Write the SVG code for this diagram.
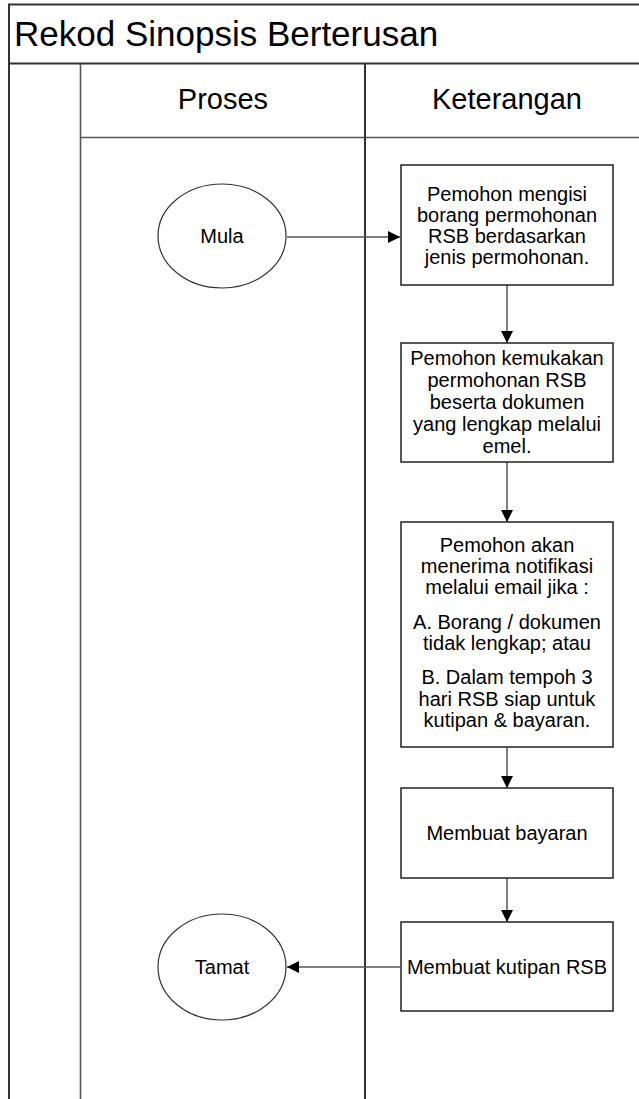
<svg xmlns="http://www.w3.org/2000/svg" width="639" height="1099" viewBox="0 0 639 1099">
<defs>
<style>
.frame{fill:none;stroke:#333;stroke-width:2}
.lane{fill:none;stroke:#555;stroke-width:1.6}
.box{fill:#fff;stroke:#222;stroke-width:1.5}
.ell{fill:#fff;stroke:#333;stroke-width:1.2}
.conn{fill:none;stroke:#555;stroke-width:1.5}
text{font-family:"Liberation Sans",Arial,sans-serif;fill:#000}
.t{font-size:20px;text-anchor:middle}
.h{font-size:29px;text-anchor:middle}
</style>
<marker id="arr" viewBox="0 0 10 10" refX="10" refY="5" markerWidth="12" markerHeight="12" markerUnits="userSpaceOnUse" orient="auto">
<path d="M0,0 L10,5 L0,10 z" fill="#000"/>
</marker>
</defs>
<rect width="639" height="1099" fill="#fff"/>
<g id="frame">
<path class="frame" d="M9,1099 V4.5 H650 M9,63.5 H650"/>
<path class="lane" d="M80.5,63.5 V1099 M80.5,137.5 H650"/>
<path class="frame" d="M365,63.5 V1099"/>
<text x="14" y="46" font-size="35">Rekod Sinopsis Berterusan</text>
<text class="h" x="223" y="109">Proses</text>
<text class="h" x="507" y="109">Keterangan</text>
</g>
<g id="connectors">
<line class="conn" x1="287" y1="237" x2="400" y2="237" marker-end="url(#arr)"/>
<line class="conn" x1="507" y1="285" x2="507" y2="343" marker-end="url(#arr)"/>
<line class="conn" x1="507" y1="462" x2="507" y2="522" marker-end="url(#arr)"/>
<line class="conn" x1="507" y1="747" x2="507" y2="788" marker-end="url(#arr)"/>
<line class="conn" x1="507" y1="878" x2="507" y2="922" marker-end="url(#arr)"/>
<line class="conn" x1="400" y1="967" x2="287" y2="967" marker-end="url(#arr)"/>
</g>
<g id="mula">
<ellipse class="ell" cx="222" cy="236" rx="64" ry="52"/>
<text class="t" x="222" y="243">Mula</text>
</g>
<g id="box1">
<rect class="box" x="401" y="165" width="212" height="120"/>
<text class="t" x="507" y="201">Pemohon mengisi</text>
<text class="t" x="507" y="222">borang permohonan</text>
<text class="t" x="507" y="243">RSB berdasarkan</text>
<text class="t" x="507" y="264">jenis permohonan.</text>
</g>
<g id="box2">
<rect class="box" x="401" y="343" width="212" height="119"/>
<text class="t" x="507" y="365">Pemohon kemukakan</text>
<text class="t" x="507" y="387">permohonan RSB</text>
<text class="t" x="507" y="409">beserta dokumen</text>
<text class="t" x="507" y="431">yang lengkap melalui</text>
<text class="t" x="507" y="453">emel.</text>
</g>
<g id="box3">
<rect class="box" x="401" y="522" width="212" height="225"/>
<text class="t" x="507" y="552">Pemohon akan</text>
<text class="t" x="507" y="573">menerima notifikasi</text>
<text class="t" x="507" y="594">melalui email jika :</text>
<text class="t" x="507" y="629">A. Borang / dokumen</text>
<text class="t" x="507" y="650">tidak lengkap; atau</text>
<text class="t" x="507" y="684">B. Dalam tempoh 3</text>
<text class="t" x="507" y="706">hari RSB siap untuk</text>
<text class="t" x="507" y="727">kutipan &amp; bayaran.</text>
</g>
<g id="box4">
<rect class="box" x="401" y="788" width="212" height="90"/>
<text class="t" x="507" y="840">Membuat bayaran</text>
</g>
<g id="box5">
<rect class="box" x="401" y="922" width="212" height="89"/>
<text class="t" x="507" y="974">Membuat kutipan RSB</text>
</g>
<g id="tamat">
<ellipse class="ell" cx="222" cy="967" rx="64" ry="53"/>
<text class="t" x="222" y="974">Tamat</text>
</g>
</svg>
